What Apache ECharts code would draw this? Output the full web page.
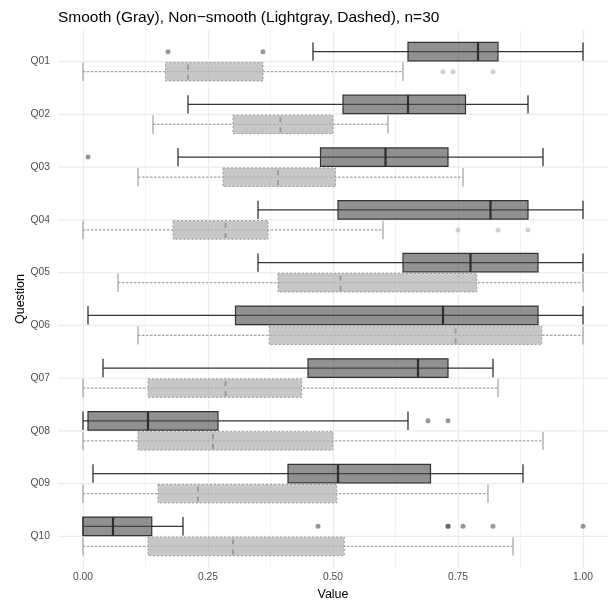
<!DOCTYPE html>
<html>
<head>
<meta charset="utf-8">
<script src="https://cdn.jsdelivr.net/npm/echarts@6/dist/echarts.min.js"></script>
<style>
  html, body { margin: 0; padding: 0; background: #ffffff; }
  #chart { width: 611px; height: 606px; }
</style>
</head>
<body>
<div id="chart"></div>
<script>
// Questions, top to bottom
const categories = ['Q01', 'Q02', 'Q03', 'Q04', 'Q05', 'Q06', 'Q07', 'Q08', 'Q09', 'Q10'];

// Five-number summaries: [lower whisker, Q1, median, Q3, upper whisker]
const smoothStats = [
  [0.46, 0.65, 0.79, 0.83, 1.00],
  [0.21, 0.52, 0.65, 0.765, 0.89],
  [0.19, 0.475, 0.605, 0.73, 0.92],
  [0.35, 0.51, 0.815, 0.89, 1.00],
  [0.35, 0.64, 0.775, 0.91, 1.00],
  [0.01, 0.305, 0.72, 0.91, 1.00],
  [0.04, 0.45, 0.67, 0.73, 0.82],
  [0.00, 0.01, 0.13, 0.27, 0.65],
  [0.02, 0.41, 0.51, 0.695, 0.88],
  [0.00, 0.00, 0.06, 0.1375, 0.20]
];
const smoothOutliers = [
  [0.17, 0.36], [], [0.01], [], [], [], [], [0.69, 0.73], [],
  [0.47, 0.73, 0.73, 0.76, 0.82, 1.00]
];

const nonSmoothStats = [
  [0.00, 0.165, 0.21, 0.36, 0.64],
  [0.14, 0.30, 0.395, 0.50, 0.61],
  [0.11, 0.28, 0.39, 0.505, 0.76],
  [0.00, 0.18, 0.285, 0.37, 0.60],
  [0.07, 0.39, 0.515, 0.7875, 1.00],
  [0.11, 0.3725, 0.745, 0.9175, 1.00],
  [0.00, 0.13, 0.285, 0.4375, 0.83],
  [0.00, 0.11, 0.26, 0.50, 0.92],
  [0.00, 0.15, 0.23, 0.5075, 0.81],
  [0.00, 0.13, 0.30, 0.5225, 0.86]
];
const nonSmoothOutliers = [
  [0.72, 0.74, 0.82], [], [], [0.75, 0.83, 0.89], [], [], [], [], [], []
];

const xTicks = [0, 0.25, 0.5, 0.75, 1];

// Layout in category units
const DODGE = 0.19;      // offset of each group from the category line
const BOX_HALF = 0.175;  // half box height
const X_EXPAND = 0.05;   // panel padding on the value scale

const FONT = "'Liberation Sans', Arial, sans-serif";

const smoothLook = {
  whisker: { stroke: '#333333', lineWidth: 1.25, fill: null },
  cap: { stroke: '#333333', lineWidth: 1.3, fill: null },
  box: { fill: 'rgba(77,77,77,0.62)', stroke: '#333333', lineWidth: 1.2 },
  median: { stroke: '#2e2e2e', lineWidth: 2.2, fill: null }
};
const nonSmoothLook = {
  whisker: { stroke: '#a3a3a3', lineWidth: 1.3, lineDash: [2.5, 1.5], fill: null },
  cap: { stroke: '#a8a8a8', lineWidth: 1.3, fill: null },
  box: { fill: 'rgba(180,180,180,0.75)', stroke: '#9a9a9a', lineWidth: 1, lineDash: [2, 2] },
  median: { stroke: '#9a9a9a', lineWidth: 2, lineDash: [5, 5], lineDashOffset: 7.7, fill: null }
};

function makeBoxRenderer(offset, look) {
  return function (params, api) {
    const yc = api.value(0) + offset;
    const lo = api.value(1), q1 = api.value(2), med = api.value(3), q3 = api.value(4), hi = api.value(5);
    const ya = api.coord([0, yc - BOX_HALF])[1];
    const yb = api.coord([0, yc + BOX_HALF])[1];
    const y0 = Math.min(ya, yb), y1 = Math.max(ya, yb);
    const yMid = api.coord([0, yc])[1];
    const x = v => api.coord([v, yc])[0];
    return {
      type: 'group',
      children: [
        { type: 'line', shape: { x1: x(lo), y1: yMid, x2: x(hi), y2: yMid }, style: look.whisker },
        { type: 'line', shape: { x1: x(lo), y1: y0, x2: x(lo), y2: y1 }, style: look.cap },
        { type: 'line', shape: { x1: x(hi), y1: y0, x2: x(hi), y2: y1 }, style: look.cap },
        { type: 'rect', shape: { x: x(q1), y: y0, width: x(q3) - x(q1), height: y1 - y0 }, style: look.box },
        { type: 'line', shape: { x1: x(med), y1: y0, x2: x(med), y2: y1 }, style: look.median }
      ]
    };
  };
}

function gridLineRenderer(params, api) {
  const i = api.value(0);
  const a = api.coord([0 - X_EXPAND, i]);
  const b = api.coord([1 + X_EXPAND, i]);
  return {
    type: 'line',
    shape: { x1: a[0], y1: a[1], x2: b[0], y2: b[1] },
    style: { stroke: '#ebebeb', lineWidth: 1.1, fill: null }
  };
}

function outlierPoints(list, offset) {
  const pts = [];
  list.forEach((vals, i) => vals.forEach(v => pts.push([v, i + offset])));
  return pts;
}

const chart = echarts.init(document.getElementById('chart'), null, { renderer: 'canvas' });

chart.setOption({
  animation: false,
  backgroundColor: '#ffffff',
  title: {
    text: 'Smooth (Gray), Non\u2212smooth (Lightgray, Dashed), n=30',
    left: 53,
    top: 5,
    textStyle: { fontFamily: FONT, fontSize: 15.5, fontWeight: 'normal', color: '#000000' }
  },
  grid: { left: 83, right: 28, top: 30, bottom: 36.6 },
  xAxis: {
    type: 'value',
    min: 0,
    max: 1,
    interval: 0.25,
    name: 'Value',
    nameLocation: 'middle',
    nameGap: 20,
    nameMoveOverlap: false,
    nameTextStyle: { fontFamily: FONT, fontSize: 12.5, color: '#000000' },
    axisLine: { show: false },
    axisTick: { show: false },
    axisLabel: {
      margin: 4,
      fontFamily: FONT,
      fontSize: 10.3,
      color: '#4d4d4d',
      formatter: v => v.toFixed(2)
    },
    splitLine: { show: true, lineStyle: { color: '#ebebeb', width: 1.1 } },
    minorTick: { show: false, splitNumber: 2 },
    minorSplitLine: { show: true, lineStyle: { color: '#eeeeee', width: 0.7 } }
  },
  yAxis: {
    type: 'value',
    min: -0.6,
    max: 9.6,
    inverse: true,
    name: 'Question',
    nameLocation: 'middle',
    nameGap: 56,
    nameMoveOverlap: false,
    nameTextStyle: { fontFamily: FONT, fontSize: 12.5, color: '#000000' },
    axisLine: { show: false },
    axisTick: { show: false },
    splitLine: { show: false },
    axisLabel: {
      customValues: categories.map((c, i) => i),
      margin: 33,
      fontFamily: FONT,
      fontSize: 10.3,
      color: '#4d4d4d',
      formatter: v => categories[Math.round(v)]
    }
  },
  series: [
    {
      type: 'custom',
      z: 1,
      silent: true,
      renderItem: gridLineRenderer,
      encode: { y: 0 },
      data: categories.map((c, i) => [i])
    },
    {
      type: 'custom',
      name: 'Smooth',
      z: 3,
      renderItem: makeBoxRenderer(-DODGE, smoothLook),
      encode: { x: [1, 2, 3, 4, 5], y: 0 },
      data: categories.map((c, i) => [i].concat(smoothStats[i]))
    },
    {
      type: 'custom',
      name: 'Non-smooth',
      z: 3,
      renderItem: makeBoxRenderer(DODGE, nonSmoothLook),
      encode: { x: [1, 2, 3, 4, 5], y: 0 },
      data: categories.map((c, i) => [i].concat(nonSmoothStats[i]))
    },
    {
      type: 'scatter',
      z: 4,
      symbol: 'circle',
      symbolSize: 5,
      itemStyle: { color: 'rgba(70,70,70,0.7)' },
      data: outlierPoints(smoothOutliers, -DODGE)
    },
    {
      type: 'scatter',
      z: 4,
      symbol: 'circle',
      symbolSize: 5,
      itemStyle: { color: 'rgba(150,150,150,0.55)' },
      data: outlierPoints(nonSmoothOutliers, DODGE)
    }
  ]
});
</script>
</body>
</html>
